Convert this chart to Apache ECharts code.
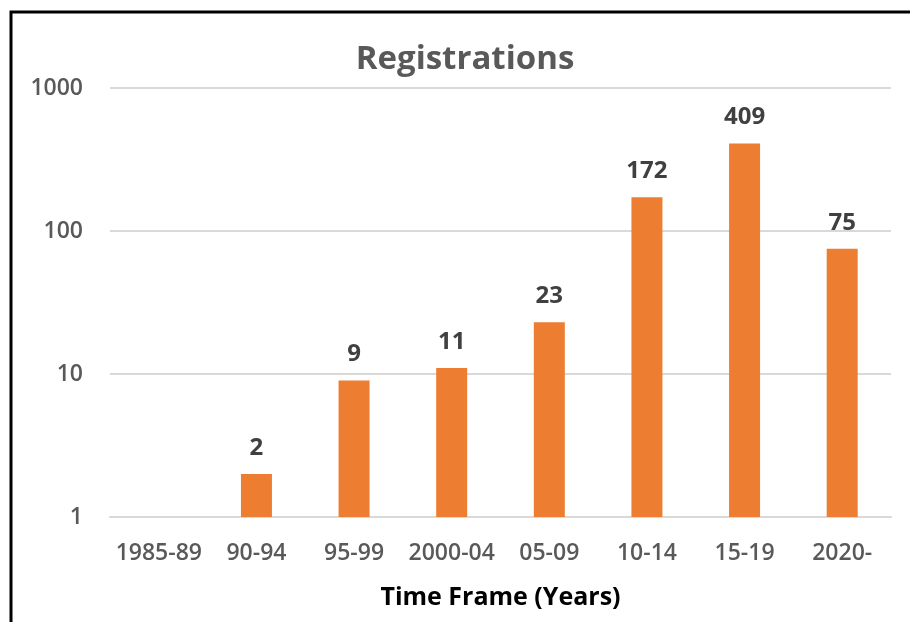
<!DOCTYPE html>
<html>
<head>
<meta charset="utf-8">
<script src="https://cdn.jsdelivr.net/npm/echarts@6/dist/echarts.min.js"></script>
<style>
html,body{margin:0;padding:0;background:#fff;}
#chart{width:910px;height:622px;}
</style>
</head>
<body>
<div id="chart"></div>
<script>
const categories = ['1985-89', '90-94', '95-99', '2000-04', '05-09', '10-14', '15-19', '2020-'];
const registrations = [null, 2, 9, 11, 23, 172, 409, 75];
const yTicks = [1, 10, 100, 1000];

const FONT = '"Open Sans", "Noto Sans", sans-serif';
const chart = echarts.init(document.getElementById('chart'));
chart.setOption({
  animation: false,
  backgroundColor: '#fff',
  title: {
    text: 'Registrations',
    left: 460,
    textAlign: 'center',
    top: 38,
    textStyle: { fontFamily: FONT, fontSize: 33, fontWeight: 'bold', color: '#595959' }
  },
  graphic: [{
    type: 'rect',
    shape: { x: 11, y: 12, width: 1000, height: 1000 },
    style: { fill: 'none', stroke: '#000', lineWidth: 3 },
    silent: true
  }],
  grid: { left: 110, right: 19, top: 88, bottom: 105 },
  xAxis: {
    type: 'category',
    data: categories,
    name: 'Time Frame (Years)',
    nameLocation: 'middle',
    nameGap: 68,
    nameTextStyle: { fontFamily: FONT, fontSize: 25, fontWeight: 'bold', color: '#000' },
    axisLine: { show: true, lineStyle: { color: '#d9d9d9', width: 2 } },
    axisTick: { show: false },
    axisLabel: { fontFamily: FONT, fontSize: 23, fontWeight: 600, color: '#595959', margin: 25, interval: 0 }
  },
  yAxis: {
    type: 'log',
    logBase: 10,
    min: 1,
    max: 1000,
    axisLine: { show: false },
    axisTick: { show: false },
    splitLine: { show: true, lineStyle: { color: '#d9d9d9', width: 2 } },
    axisLabel: {
      fontFamily: FONT, fontSize: 23, fontWeight: 600, color: '#595959', margin: 27,
      formatter: function (v) { return yTicks.indexOf(Math.round(v)) >= 0 ? String(Math.round(v)) : ''; }
    }
  },
  series: [{
    type: 'bar',
    data: registrations,
    barWidth: 31,
    itemStyle: { color: '#ED7D31' },
    label: {
      show: true,
      position: 'top',
      distance: 14,
      fontFamily: FONT,
      fontSize: 24,
      fontWeight: 'bold',
      color: '#404040'
    }
  }]
});
</script>
</body>
</html>
